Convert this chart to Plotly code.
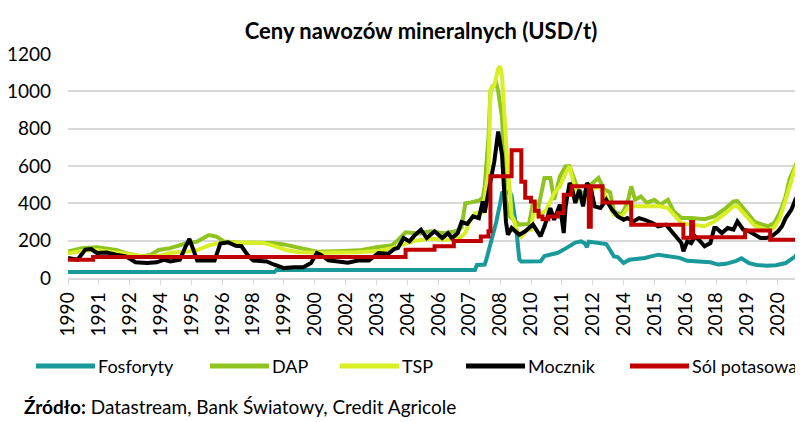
import plotly.graph_objects as go

# Ceny nawozów mineralnych (USD/t), dane miesięczne
fos_dates = ["1990-01", "1998-12", "1999-01", "2007-08", "2007-09", "2008-01", "2008-02", "2008-04",
             "2008-07", "2008-09", "2008-10", "2009-02", "2009-03", "2009-05", "2009-06", "2009-07",
             "2009-08", "2010-06", "2010-08", "2010-11", "2011-03", "2011-06", "2011-09", "2011-12",
             "2012-03", "2012-05", "2012-06", "2012-07", "2012-12", "2013-04", "2013-06", "2013-08",
             "2013-10", "2014-01", "2014-04", "2014-12", "2015-07", "2015-12", "2016-06", "2016-10",
             "2017-05", "2017-10", "2018-02", "2018-06", "2018-11", "2019-02", "2019-06", "2019-10",
             "2020-03", "2020-08", "2021-01", "2021-06", "2021-09", "2021-12"]
fos_vals = [32, 32, 43, 43, 70, 72, 105, 175,
            300, 400, 455, 460, 440, 300, 180, 100,
            88, 90, 118, 125, 135, 152, 170, 190,
            196, 185, 165, 195, 188, 182, 150, 115,
            112, 80, 98, 107, 125, 118, 108, 92,
            89, 84, 72, 76, 90, 105, 80, 70,
            66, 68, 80, 116, 152, 165]

dap_dates = ["1990-01", "1990-08", "1991-04", "1991-09", "1992-02", "1992-07", "1993-03", "1993-08",
             "1993-12", "1994-06", "1995-02", "1995-08", "1996-02", "1996-06", "1996-10", "1997-05",
             "1998-06", "1998-11", "1999-05", "2000-01", "2000-10", "2001-08", "2002-08", "2003-05",
             "2004-01", "2004-04", "2004-08", "2005-03", "2005-09", "2006-04", "2006-10", "2007-01",
             "2007-03", "2007-06", "2007-10", "2007-12", "2008-01", "2008-03", "2008-04", "2008-05",
             "2008-07", "2008-08", "2008-10", "2008-11", "2008-12", "2009-02", "2009-05", "2009-07",
             "2009-12", "2010-02", "2010-05", "2010-08", "2010-11", "2011-01", "2011-04", "2011-07",
             "2011-09", "2011-11", "2012-02", "2012-05", "2012-08", "2012-12", "2013-03", "2013-06",
             "2013-08", "2013-12", "2014-03", "2014-05", "2014-07", "2014-10", "2015-01", "2015-05",
             "2015-08", "2015-12", "2016-03", "2016-07", "2016-12", "2017-07", "2017-12", "2018-05",
             "2018-10", "2018-12", "2019-03", "2019-06", "2019-09", "2020-01", "2020-04", "2020-07",
             "2020-10", "2021-01", "2021-03", "2021-06", "2021-09", "2021-11"]
dap_vals = [141, 159, 165, 155, 150, 133, 115, 125,
            150, 160, 185, 195, 230, 222, 195, 190,
            192, 188, 180, 159, 141, 143, 148, 165,
            175, 203, 245, 238, 250, 240, 250, 270,
            400, 405, 415, 430, 490, 750, 1000, 1026,
            1043, 1000, 860, 640, 420, 330, 300, 286,
            290, 402, 384, 536, 536, 419, 544, 598,
            598, 544, 455, 460, 500, 536, 473, 460,
            357, 340, 402, 491, 419, 437, 402, 419,
            393, 419, 357, 321, 321, 315, 330, 366,
            410, 412, 375, 330, 300, 286, 277, 294,
            350, 437, 527, 600, 670, 700]

tsp_dates = ["1990-01", "1990-08", "1991-04", "1992-02", "1992-07", "1993-03", "1993-08", "1994-01",
             "1994-06", "1995-02", "1995-08", "1996-02", "1996-06", "1997-01", "1998-06", "1998-11",
             "1999-06", "2000-01", "2001-01", "2002-06", "2003-06", "2004-01", "2004-07", "2005-01",
             "2005-09", "2006-06", "2006-12", "2007-03", "2007-05", "2007-08", "2007-12", "2008-02",
             "2008-03", "2008-04", "2008-06", "2008-08", "2008-09", "2008-10", "2008-11", "2008-12",
             "2009-01", "2009-02", "2009-03", "2009-04", "2009-06", "2009-08", "2009-11", "2010-01",
             "2010-03", "2010-05", "2010-09", "2011-01", "2011-04", "2011-07", "2011-09", "2011-11",
             "2012-02", "2012-05", "2012-08", "2012-12", "2013-03", "2013-06", "2013-08", "2013-12",
             "2014-04", "2014-07", "2015-01", "2015-08", "2015-12", "2016-03", "2016-07", "2016-12",
             "2017-07", "2017-12", "2018-05", "2018-10", "2018-12", "2019-03", "2019-06", "2019-09",
             "2020-01", "2020-04", "2020-07", "2020-10", "2021-01", "2021-03", "2021-06", "2021-09",
             "2021-11"]
tsp_vals = [132, 145, 150, 140, 130, 118, 115, 120,
            135, 140, 150, 175, 185, 190, 188, 175,
            150, 138, 135, 138, 145, 160, 180, 200,
            210, 205, 215, 241, 300, 348, 352, 480,
            570, 1010, 1032, 1121, 1134, 1080, 925, 700,
            570, 473, 337, 312, 248, 221, 259, 259,
            400, 330, 366, 455, 491, 562, 598, 509,
            419, 419, 473, 491, 455, 384, 339, 330,
            384, 384, 384, 384, 375, 340, 294, 286,
            277, 303, 339, 384, 386, 350, 312, 280,
            265, 255, 270, 320, 420, 490, 590, 640,
            660]

moc_dates = ["1990-01", "1990-06", "1990-10", "1991-01", "1991-04", "1991-09", "1992-02", "1992-07",
             "1992-12", "1993-06", "1993-11", "1994-03", "1994-06", "1994-11", "1995-02", "1995-04",
             "1995-06", "1995-08", "1996-05", "1996-08", "1996-12", "1997-04", "1997-07", "1997-10",
             "1998-01", "1998-05", "1998-08", "1998-12", "1999-05", "1999-10", "2000-03", "2000-07",
             "2000-10", "2000-12", "2001-04", "2001-09", "2002-02", "2002-08", "2003-01", "2003-06",
             "2003-11", "2004-02", "2004-04", "2004-07", "2004-10", "2005-01", "2005-04", "2005-07",
             "2005-11", "2006-03", "2006-06", "2006-08", "2006-11", "2007-01", "2007-04", "2007-07",
             "2007-10", "2007-12", "2008-01", "2008-04", "2008-06", "2008-08", "2008-10", "2008-12",
             "2009-01", "2009-03", "2009-07", "2009-10", "2010-02", "2010-06", "2010-08", "2010-11",
             "2011-01", "2011-04", "2011-06", "2011-07", "2011-09", "2011-10", "2011-12", "2012-02",
             "2012-04", "2012-06", "2012-08", "2012-10", "2013-01", "2013-04", "2013-07", "2013-10",
             "2014-01", "2014-03", "2014-06", "2014-09", "2014-12", "2015-04", "2015-07", "2015-11",
             "2016-02", "2016-05", "2016-07", "2016-08", "2016-10", "2016-12", "2017-02", "2017-04",
             "2017-07", "2017-10", "2017-12", "2018-01", "2018-04", "2018-07", "2018-10", "2018-12",
             "2019-03", "2019-06", "2019-09", "2019-12", "2020-03", "2020-06", "2020-09", "2020-11",
             "2021-01", "2021-03", "2021-04", "2021-06", "2021-08", "2021-10"]
moc_vals = [107, 98, 152, 155, 134, 137, 125, 116,
            84, 80, 84, 98, 89, 98, 170, 209,
            152, 94, 94, 184, 191, 173, 170, 125,
            94, 89, 89, 71, 53, 57, 57, 80,
            134, 125, 95, 89, 82, 95, 94, 134,
            130, 155, 161, 214, 196, 232, 259, 214,
            250, 214, 240, 214, 240, 300, 290, 330,
            320, 410, 350, 517, 625, 785, 660, 303,
            232, 268, 232, 250, 286, 223, 277, 375,
            312, 393, 241, 384, 509, 491, 402, 473,
            384, 509, 482, 384, 375, 419, 366, 330,
            312, 321, 303, 321, 312, 294, 277, 286,
            250, 214, 187, 143, 196, 187, 223, 205,
            170, 187, 268, 268, 241, 268, 259, 303,
            260, 250, 232, 214, 214, 225, 250, 276,
            321, 348, 366, 419, 455, 490]

pot_dates = ["1990-01", "1991-02", "2004-08", "2005-11", "2006-09", "2007-11", "2008-03", "2008-04",
             "2009-03", "2009-08", "2009-10", "2010-01", "2010-03", "2010-05", "2010-07", "2010-10",
             "2011-03", "2011-06", "2011-10", "2012-07", "2012-08", "2013-02", "2014-05", "2016-08",
             "2016-12", "2017-01", "2019-04", "2020-05", "2021-08", "2021-11"]
pot_vals = [98, 112, 152, 170, 198, 222, 250, 545,
            685, 515, 430, 410, 360, 330, 315, 330,
            348, 446, 491, 275, 491, 405, 285, 215,
            300, 218, 255, 205, 225, 225]

# etykiety osi X co 16 miesięcy
tick_dates = ["1990-01", "1991-05", "1992-09", "1994-01", "1995-05", "1996-09", "1998-01", "1999-05",
              "2000-09", "2002-01", "2003-05", "2004-09", "2006-01", "2007-05", "2008-09", "2010-01",
              "2011-05", "2012-09", "2014-01", "2015-05", "2016-09", "2018-01", "2019-05", "2020-09"]
tick_years = [d[:4] for d in tick_dates]

series = [
    ("Fosforyty", fos_dates, fos_vals, "#19999A", "linear"),
    ("DAP", dap_dates, dap_vals, "#8FC31F", "linear"),
    ("TSP", tsp_dates, tsp_vals, "#D8EF26", "linear"),
    ("Mocznik", moc_dates, moc_vals, "#000000", "linear"),
    ("Sól potasowa", pot_dates, pot_vals, "#C00000", "hv"),
]

FONT = "Lato"
OFF = 8  # page body margin of the html file
W, H = 803 - OFF, 422 - OFF
L, R, T, B = 68 - OFF, 0, 54 - OFF, 144

fig = go.Figure()
for name, x, y, color, shape in series:
    fig.add_trace(go.Scatter(x=x, y=y, name=name, mode="lines",
                             line=dict(color=color, width=4, shape=shape),
                             showlegend=False))


# screen pixel -> paper coordinates (for the legend and the source line)
def px(xp):
    return (xp - OFF - L) / (W - L - R)


def py(yp):
    return (H - B - (yp - OFF)) / (H - T - B)


legend_x = [36, 210, 340, 466, 630]
for (name, _, _, color, _), x0 in zip(series, legend_x):
    fig.add_shape(type="line", xref="paper", yref="paper",
                  x0=px(x0), x1=px(x0 + 59), y0=py(366), y1=py(366),
                  line=dict(color=color, width=5))
    fig.add_annotation(text=name, xref="paper", yref="paper", x=px(x0 + 60), y=py(366),
                       xanchor="left", yanchor="middle", showarrow=False,
                       font=dict(family=FONT, size=18, color="#000000"))

fig.add_annotation(text="<b>Źródło:</b> Datastream, Bank Światowy, Credit Agricole",
                   xref="paper", yref="paper", x=px(22), y=py(406),
                   xanchor="left", yanchor="middle", showarrow=False,
                   font=dict(family=FONT, size=19, color="#000000"))

fig.update_layout(
    width=W, height=H,
    margin=dict(l=L, r=R, t=T, b=B),
    paper_bgcolor="white", plot_bgcolor="white",
    title=dict(text="<b>Ceny nawozów mineralnych (USD/t)</b>",
               x=(421 - OFF) / W, xanchor="center", y=1 - (31 - OFF) / H, yanchor="middle",
               font=dict(family=FONT, size=22, color="#000000")),
    font=dict(family=FONT, color="#000000"),
    showlegend=False,
)
fig.update_xaxes(type="date", range=["1990-01-01", "2021-10-01"],
                 tickmode="array", tickvals=tick_dates, ticktext=tick_years,
                 tickangle=-90, tickfont=dict(family=FONT, size=19, color="#000000"),
                 ticks="outside", ticklen=5, tickcolor="#d9d9d9",
                 showline=True, linecolor="#d9d9d9", linewidth=1.5,
                 showgrid=False, zeroline=False)
fig.update_yaxes(range=[0, 1200], dtick=200, tickfont=dict(family=FONT, size=19, color="#000000"),
                 showgrid=True, gridcolor="#d9d9d9", gridwidth=1.5,
                 zeroline=False, showline=False, ticks="", ticklabelstandoff=16)

fig.write_html("out.html")
